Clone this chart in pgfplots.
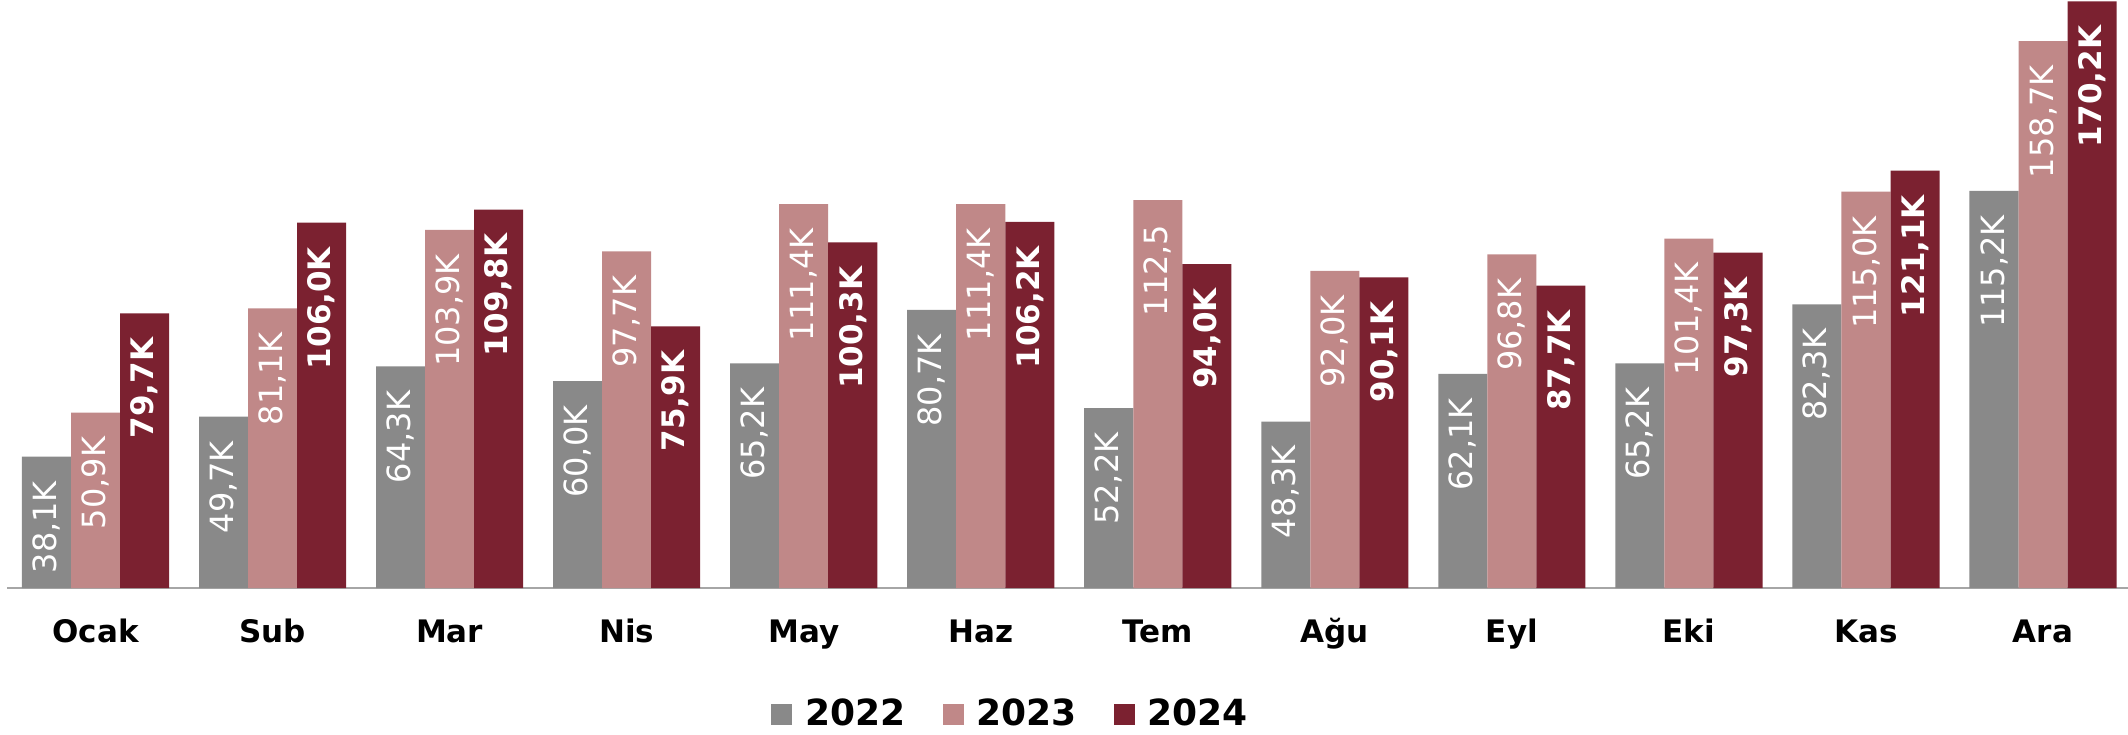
\documentclass[border=0pt]{standalone}
\usepackage{fontspec}
\setmainfont{DejaVu Sans}
\usepackage{pgfplots}
\usepackage{pgfplotstable}
\pgfplotsset{compat=1.18}
\definecolor{cA}{HTML}{898989}
\definecolor{cB}{HTML}{C08888}
\definecolor{cC}{HTML}{7B2130}
\definecolor{axgray}{HTML}{A6A6A6}

\pgfplotstableread{
x y lab
-0.277 38.1 38,1K
0.723 49.7 49,7K
1.723 64.3 64,3K
2.723 60.0 60,0K
3.723 65.2 65,2K
4.723 80.7 80,7K
5.723 52.2 52,2K
6.723 48.3 48,3K
7.723 62.1 62,1K
8.723 65.2 65,2K
9.723 82.3 82,3K
10.723 115.2 115,2K
}\dataA
\pgfplotstableread{
x y lab
0 50.9 50,9K
1 81.1 81,1K
2 103.9 103,9K
3 97.7 97,7K
4 111.4 111,4K
5 111.4 111,4K
6 112.5 112,5
7 92.0 92,0K
8 96.8 96,8K
9 101.4 101,4K
10 115.0 115,0K
11 158.7 158,7K
}\dataB
\pgfplotstableread{
x y lab
0.277 79.7 79,7K
1.277 106.0 106,0K
2.277 109.8 109,8K
3.277 75.9 75,9K
4.277 100.3 100,3K
5.277 106.2 106,2K
6.277 94.0 94,0K
7.277 90.1 90,1K
8.277 87.7 87,7K
9.277 97.3 97,3K
10.277 121.1 121,1K
11.277 170.2 170,2K
}\dataC

\begin{document}
\begin{tikzpicture}
\useasboundingbox (0,0) rectangle (1064pt,367pt);
\begin{axis}[
  at={(3.5pt,73pt)}, anchor=south west,
  scale only axis, width=1060.5pt, height=294pt,
  ybar, bar width=0.277,
  xmin=-0.5, xmax=11.48, ymin=0, ymax=170.6,
  axis x line=bottom, axis y line=none,
  x axis line style={-, draw=axgray, line width=1pt},
  xtick={0,...,11},
  xticklabels={Ocak,Sub,Mar,Nis,May,Haz,Tem,Ağu,Eyl,Eki,Kas,Ara},
  major tick length=0pt,
  ytick=\empty,
  xticklabel style={font=\bfseries\fontsize{15.5}{15.5}\selectfont, anchor=base, yshift=-27pt},
  nodes near coords,
  point meta=explicit symbolic,
  every node near coord/.append style={rotate=90, anchor=east, inner xsep=12pt, inner ysep=0pt, text=white, font=\fontsize{16}{16}\selectfont},
  legend image code/.code={\fill[#1] (0pt,-5.25pt) rectangle (10.5pt,5.25pt);},
  legend columns=-1,
  legend style={at={(0.3602,-0.2143)}, anchor=west, draw=none, inner sep=0pt,
    font=\bfseries\fontsize{18}{18}\selectfont,
    nodes={inner sep=0pt},
    /tikz/every odd column/.append style={column sep=6.5pt},
    /tikz/every even column/.append style={column sep=18.5pt}},
]
\addplot[fill=cA, draw=none, bar shift=0pt] table[x=x, y=y, meta=lab] {\dataA};
\addplot[fill=cB, draw=none, bar shift=0pt] table[x=x, y=y, meta=lab] {\dataB};
\addplot[fill=cC, draw=none, bar shift=0pt, every node near coord/.append style={font=\bfseries\fontsize{15.5}{15.5}\selectfont}] table[x=x, y=y, meta=lab] {\dataC};
\legend{2022,2023,2024}
\end{axis}
\end{tikzpicture}
\end{document}
